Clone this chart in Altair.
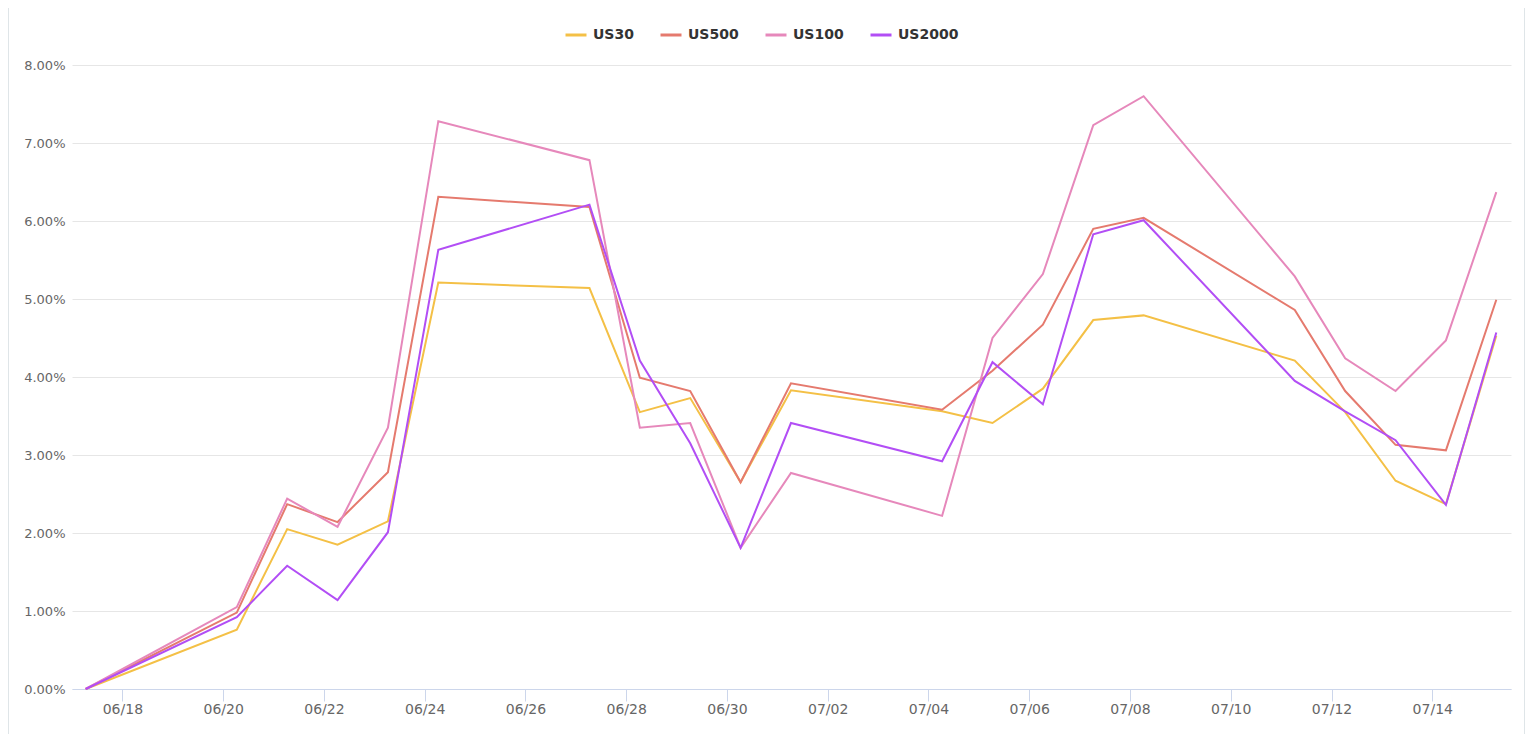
import altair as alt
import pandas as pd

dates = ["2022-06-17", "2022-06-20", "2022-06-21", "2022-06-22", "2022-06-23",
         "2022-06-24", "2022-06-27", "2022-06-28", "2022-06-29", "2022-06-30",
         "2022-07-01", "2022-07-04", "2022-07-05", "2022-07-06", "2022-07-07",
         "2022-07-08", "2022-07-11", "2022-07-12", "2022-07-13", "2022-07-14",
         "2022-07-15"]
series_names = ["US30", "US500", "US100", "US2000"]
us30 = [0, 0.76, 2.05, 1.85, 2.15, 5.21, 5.14, 3.55, 3.73, 2.65, 3.83, 3.56,
        3.41, 3.85, 4.73, 4.79, 4.21, 3.55, 2.67, 2.37, 4.53]
us500 = [0, 0.98, 2.37, 2.14, 2.78, 6.31, 6.18, 3.99, 3.82, 2.65, 3.92, 3.58,
         4.08, 4.67, 5.90, 6.04, 4.86, 3.82, 3.13, 3.06, 4.99]
us100 = [0, 1.05, 2.44, 2.08, 3.35, 7.28, 6.78, 3.35, 3.41, 1.81, 2.77, 2.22,
         4.50, 5.32, 7.23, 7.60, 5.29, 4.24, 3.82, 4.47, 6.37]
us2000 = [0, 0.92, 1.58, 1.14, 2.01, 5.63, 6.21, 4.21, 3.15, 1.81, 3.41, 2.92,
          4.19, 3.65, 5.83, 6.01, 3.95, 3.56, 3.19, 2.36, 4.57]
colors = ["#f4c046", "#e57a6e", "#e688bb", "#b24ef5"]
tick_dates = ["2022-06-18", "2022-06-20", "2022-06-22", "2022-06-24", "2022-06-26",
              "2022-06-28", "2022-06-30", "2022-07-02", "2022-07-04", "2022-07-06",
              "2022-07-08", "2022-07-10", "2022-07-12", "2022-07-14"]

rows = []
for name, vals in zip(series_names, [us30, us500, us100, us2000]):
    for d, v in zip(dates, vals):
        rows.append({"date": d + "T06:30:00Z", "series": name, "value": v / 100})
df = pd.DataFrame(rows)

tick_values = [int(pd.Timestamp(t, tz="UTC").value // 10**6) for t in tick_dates]
dom_start = int(pd.Timestamp("2022-06-17T00:00:00", tz="UTC").value // 10**6)
dom_end = int(pd.Timestamp("2022-07-15T13:30:00", tz="UTC").value // 10**6)

lines = alt.Chart(df).mark_line(strokeWidth=2).encode(
    x=alt.X("date:T", title=None,
            scale=alt.Scale(type="utc", domain=[dom_start, dom_end]),
            axis=alt.Axis(values=tick_values, format="%m/%d", grid=False,
                          domainColor="#ccd6eb", domainWidth=1,
                          tickColor="#ccd6eb", tickSize=12, tickWidth=1,
                          labelPadding=1, labelFont="DejaVu Sans",
                          labelFontSize=14, labelColor="#666666")),
    y=alt.Y("value:Q", title=None,
            scale=alt.Scale(domain=[0, 0.08], nice=False),
            axis=alt.Axis(format=".2%", values=[0, 0.01, 0.02, 0.03, 0.04, 0.05, 0.06, 0.07, 0.08],
                          domain=False, ticks=False, gridColor="#e6e6e6",
                          labelPadding=7, labelFont="DejaVu Sans",
                          labelFontSize=13, labelColor="#666666")),
    color=alt.Color("series:N", sort=series_names,
                    scale=alt.Scale(domain=series_names, range=colors),
                    legend=alt.Legend(title=None, orient="none", direction="horizontal",
                                      legendX=492, legendY=-42,
                                      symbolType="stroke", symbolSize=441,
                                      symbolStrokeWidth=3, labelOffset=5,
                                      columnPadding=20, padding=0,
                                      labelFont="DejaVu Sans", labelFontSize=14,
                                      labelFontWeight="bold", labelColor="#333333")),
)

left_border = alt.Chart().mark_rule(color="#dfe5e8", strokeWidth=1).encode(
    x=alt.value(-63.5), y=alt.value(-57), y2=alt.value(680))
right_border = alt.Chart().mark_rule(color="#dfe5e8", strokeWidth=1).encode(
    x=alt.value(1452.5), y=alt.value(-57), y2=alt.value(680))

chart = alt.layer(lines, left_border, right_border).properties(
    width=1439, height=624,
    autosize=alt.AutoSizeParams(type="none"),
    padding={"left": 64, "top": 57, "right": 15, "bottom": 45},
).configure(background="white").configure_view(strokeWidth=0, stroke="transparent")

chart.save("out.html", embed_options={"renderer": "svg", "actions": False})
